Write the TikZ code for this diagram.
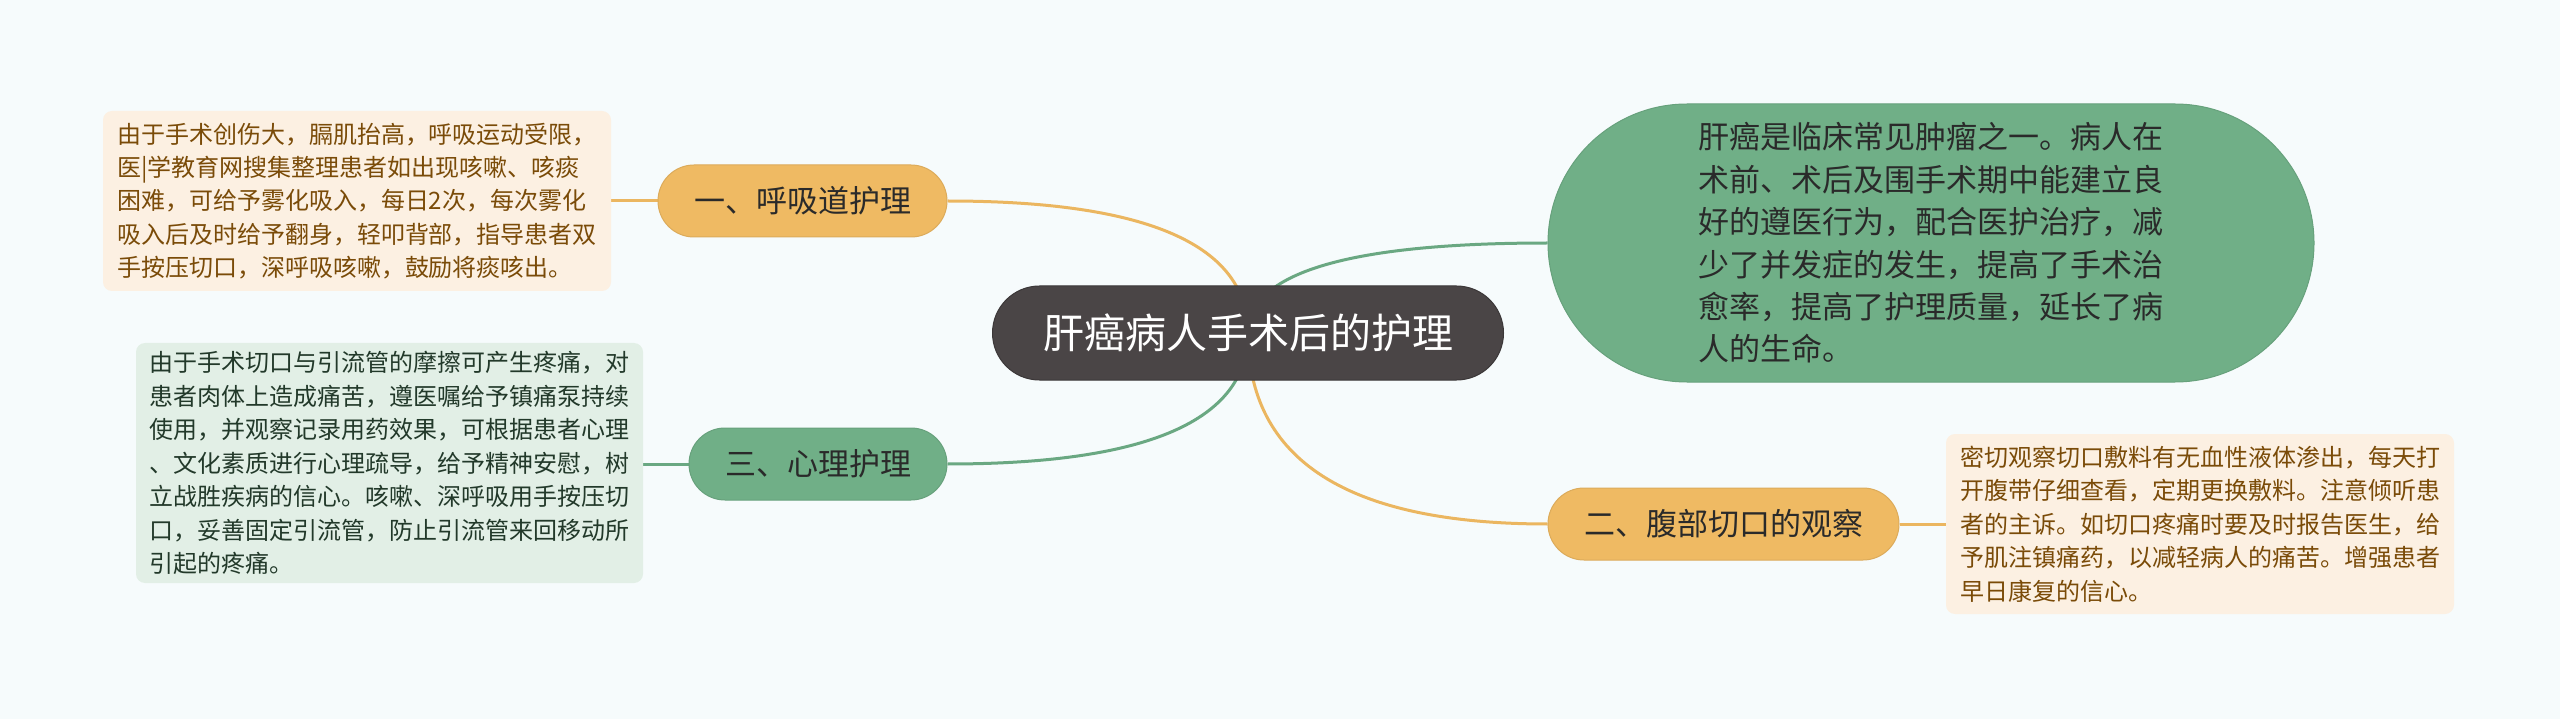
\documentclass[tikz,border=0pt]{standalone}
\usepackage{fontspec}
\setmainfont{Noto Sans CJK SC}
\usetikzlibrary{calc}
\pgfdeclarelayer{bglayer}
\pgfdeclarelayer{edgelayer}
\pgfsetlayers{bglayer,edgelayer,main}
\definecolor{bgc}{HTML}{F6FBFC}
\definecolor{rootc}{HTML}{4A4546}
\definecolor{orangec}{HTML}{EFBA63}
\definecolor{orangeline}{HTML}{EBB660}
\definecolor{greenc}{HTML}{70AF87}
\definecolor{greenline}{HTML}{6AA882}
\definecolor{leafo}{HTML}{FCF0E2}
\definecolor{leafotext}{HTML}{7A4B08}
\definecolor{leafg}{HTML}{E2EFE6}
\definecolor{leafgtext}{HTML}{22392A}
\definecolor{darktext}{HTML}{2A2A2A}
\tikzset{
  rootbox/.style={fill=rootc, draw=rootc!80!black, line width=1pt, rounded corners=47pt,
    minimum width=511pt, minimum height=94pt, inner sep=0pt, text=white,
    font=\fontsize{41}{50}\selectfont},
  obranch/.style={fill=orangec, draw=orangec!92!black, line width=1pt, rounded corners=36pt,
    minimum height=72pt, inner sep=0pt, text=darktext, font=\fontsize{31}{38}\selectfont},
  gbranch/.style={fill=greenc, draw=greenc!92!black, line width=1pt, rounded corners=36pt,
    minimum height=72pt, inner sep=0pt, text=darktext, font=\fontsize{31}{38}\selectfont},
  bigbox/.style={fill=greenc, draw=greenc!92!black, line width=1pt, rounded corners=139pt,
    minimum width=766pt, minimum height=278pt, inner sep=0pt, text=darktext, align=left,
    font=\fontsize{31}{42.4}\selectfont},
  oleaf/.style={fill=leafo, rounded corners=9pt, minimum width=508pt, inner sep=0pt,
    text=leafotext, align=left, font=\fontsize{24}{33.4}\selectfont},
  gleaf/.style={fill=leafg, rounded corners=9pt, minimum width=507pt, inner sep=0pt,
    text=leafgtext, align=left, font=\fontsize{24}{33.5}\selectfont},
  oline/.style={draw=orangeline, line width=3pt},
  gline/.style={draw=greenline, line width=3pt},
}
\begin{document}
\begin{tikzpicture}[x=1pt,y=-1pt]
\begin{pgfonlayer}{bglayer}
\fill[bgc] (0,0) rectangle (2560,719);
\end{pgfonlayer}
\useasboundingbox (0,0) rectangle (2560,719);

\node[rootbox] (root) at (1248,333) {肝癌病人手术后的护理};

\node[obranch, minimum width=289pt] (n1) at (802.5,201) {一、呼吸道护理};
\node[gbranch, minimum width=258pt] (n3) at (818,464) {三、心理护理};
\node[obranch, minimum width=351pt] (n2) at (1723.5,524) {二、腹部切口的观察};
\node[bigbox] (big) at (1931,243) {肝癌是临床常见肿瘤之一。病人在\\术前、术后及围手术期中能建立良\\好的遵医行为，配合医护治疗，减\\少了并发症的发生，提高了手术治\\愈率，提高了护理质量，延长了病\\人的生命。};

\node[oleaf, minimum height=180pt] (l1) at (357,201) {由于手术创伤大，膈肌抬高，呼吸运动受限，\\医|学教育网搜集整理患者如出现咳嗽、咳痰\\困难，可给予雾化吸入，每日2次，每次雾化\\吸入后及时给予翻身，轻叩背部，指导患者双\\手按压切口，深呼吸咳嗽，鼓励将痰咳出。};

\node[gleaf, minimum height=240pt] (l3) at (389.5,463) {由于手术切口与引流管的摩擦可产生疼痛，对\\患者肉体上造成痛苦，遵医嘱给予镇痛泵持续\\使用，并观察记录用药效果，可根据患者心理\\、文化素质进行心理疏导，给予精神安慰，树\\立战胜疾病的信心。咳嗽、深呼吸用手按压切\\口，妥善固定引流管，防止引流管来回移动所\\引起的疼痛。};

\node[oleaf, minimum height=180pt] (l2) at (2200,524) {密切观察切口敷料有无血性液体渗出，每天打\\开腹带仔细查看，定期更换敷料。注意倾听患\\者的主诉。如切口疼痛时要及时报告医生，给\\予肌注镇痛药，以减轻病人的痛苦。增强患者\\早日康复的信心。};

\begin{pgfonlayer}{edgelayer}
\coordinate (c1) at (root.center |- n1.east);
\coordinate (c3) at (root.center |- n3.east);
\coordinate (c2) at (root.center |- n2.west);
\coordinate (cb) at (root.center |- big.west);
\draw[oline] (n1.east) .. controls ($(n1.east)!0.6667!(c1)$) and ($(root.center)!0.6667!(c1)$) .. (root.center);
\draw[gline] (n3.east) .. controls ($(n3.east)!0.6667!(c3)$) and ($(root.center)!0.6667!(c3)$) .. (root.center);
\draw[oline] (n2.west) .. controls ($(n2.west)!0.6667!(c2)$) and ($(root.center)!0.6667!(c2)$) .. (root.center);
\draw[gline] (big.west) .. controls ($(big.west)!0.6667!(cb)$) and ($(root.center)!0.6667!(cb)$) .. (root.center);
\draw[oline] (n1.west) -- (l1.east);
\draw[gline] (n3.west) -- (l3.east |- n3.west);
\draw[oline] (n2.east) -- (l2.west);
\end{pgfonlayer}
\end{tikzpicture}
\end{document}
